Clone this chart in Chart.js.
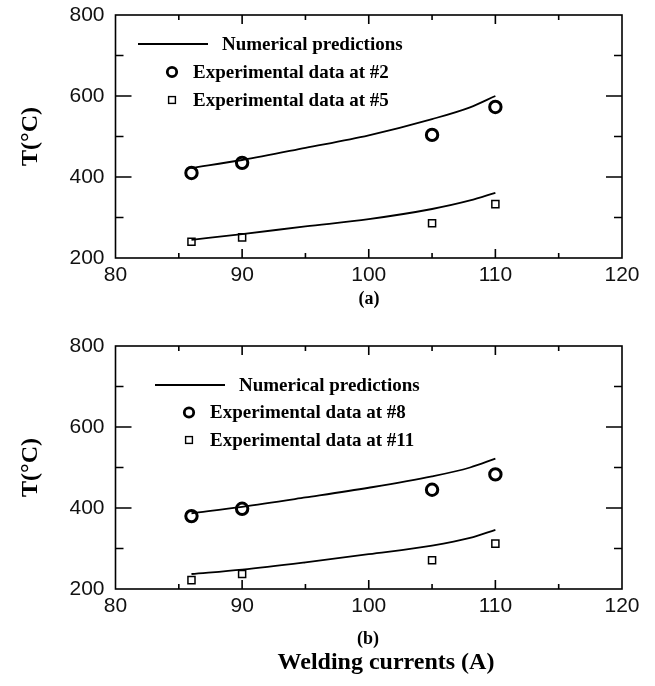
<!DOCTYPE html>
<html>
<head>
<meta charset="utf-8">
<script src="https://cdn.jsdelivr.net/npm/chart.js@4.4.1/dist/chart.umd.min.js"></script>
<style>
  body { margin: 0; background: #fff; }
  #wrap { position: relative; width: 655px; height: 686px; }
  .box { position: absolute; left: 0; width: 655px; height: 300px; }
  .lbl { position: absolute; font-family: "Liberation Serif", serif; font-weight: bold; color: #000;
         line-height: 1; transform: translate(-50%, -50%); white-space: nowrap; }
</style>
</head>
<body>
<div id="wrap">
  <div class="box" style="top:0"><canvas id="chartA" width="655" height="300"></canvas></div>
  <div class="box" style="top:331px"><canvas id="chartB" width="655" height="300"></canvas></div>
  <div class="lbl" style="left:369px; top:298px; font-size:18px">(a)</div>
  <div class="lbl" style="left:368px; top:638px; font-size:18px">(b)</div>
  <div class="lbl" style="left:386px; top:661px; font-size:24px">Welding currents (A)</div>
</div>
<script>
// Measured welding currents (A)
const currents = [86, 90, 105, 110];
// Currents used to trace the numerical prediction curves
const predCurrents = [86, 90, 95, 100, 105, 108, 110];

// (a) positions #2 and #5
const predA2 = [422, 442, 472, 503, 543, 572, 600];
const predA5 = [245, 259, 278, 296, 321, 342, 361];
const expA2 = [410, 435, 504, 573];
const expA5 = [240, 251, 286, 333];

// (b) positions #8 and #11
const predB8 = [387, 403, 426, 450, 478, 500, 522];
const predB11 = [237, 248, 266, 286, 307, 326, 346];
const expB8 = [380, 398, 445, 483];
const expB11 = [222, 237, 271, 312];

// axis ticks
const xTicks = [80, 90, 100, 110, 120];
const yTicks = [200, 400, 600, 800];

function pts(xs, ys) {
  return xs.map((x, i) => ({ x: x, y: ys[i] }));
}

// frame with inward ticks on all four sides
const frameTicks = {
  id: 'frameTicks',
  afterDatasetsDraw(chart) {
    const ctx = chart.ctx;
    const a = chart.chartArea;
    const xs = chart.scales.x, ys = chart.scales.y;
    ctx.save();
    ctx.strokeStyle = '#000';
    ctx.lineWidth = 1.6;
    ctx.strokeRect(a.left, a.top, a.right - a.left, a.bottom - a.top);
    ctx.beginPath();
    for (let v = 85; v < 120; v += 5) {
      const px = xs.getPixelForValue(v);
      const len = v % 10 === 0 ? 9 : 5;
      ctx.moveTo(px, a.bottom); ctx.lineTo(px, a.bottom - len);
      ctx.moveTo(px, a.top); ctx.lineTo(px, a.top + len);
    }
    for (let v = 300; v < 800; v += 100) {
      const py = ys.getPixelForValue(v);
      const len = v % 200 === 0 ? 16 : 8;
      ctx.moveTo(a.left, py); ctx.lineTo(a.left + len, py);
      ctx.moveTo(a.right, py); ctx.lineTo(a.right - len, py);
    }
    ctx.stroke();
    ctx.restore();
  }
};

// hand drawn legend, box position given per chart
const legendBox = {
  id: 'legendBox',
  afterDraw(chart, args, opts) {
    const ctx = chart.ctx;
    const x = opts.x, y = opts.y;
    ctx.save();
    ctx.strokeStyle = '#000';
    ctx.fillStyle = '#000';
    ctx.font = 'bold 19px "Liberation Serif"';
    ctx.textBaseline = 'middle';
    // line
    ctx.lineWidth = 1.8;
    ctx.beginPath();
    ctx.moveTo(x, y); ctx.lineTo(x + 70, y);
    ctx.stroke();
    ctx.fillText('Numerical predictions', x + 84, y + 1);
    // circle
    ctx.lineWidth = 2.8;
    ctx.beginPath();
    ctx.arc(x + 34, y + opts.gap, 4.7, 0, Math.PI * 2);
    ctx.stroke();
    ctx.fillText(opts.labels[0], x + 55, y + opts.gap + 1);
    // square
    ctx.lineWidth = 1.4;
    ctx.strokeRect(x + 34 - 3.4, y + opts.gap * 2 - 3.4, 6.8, 6.8);
    ctx.fillText(opts.labels[1], x + 55, y + opts.gap * 2 + 1);
    ctx.restore();
  }
};

function makeChart(id, upper, lower, circles, squares, legend) {
  const lineStyle = {
    showLine: true, pointRadius: 0, borderColor: '#000', borderWidth: 1.8,
    cubicInterpolationMode: 'monotone', fill: false
  };
  return new Chart(document.getElementById(id), {
    type: 'scatter',
    data: {
      datasets: [
        Object.assign({ label: 'Numerical predictions', data: pts(predCurrents, upper) }, lineStyle),
        Object.assign({ label: 'Numerical predictions lower', data: pts(predCurrents, lower) }, lineStyle),
        {
          label: legend.labels[0], data: pts(currents, circles),
          pointStyle: 'circle', pointRadius: 5.7, borderWidth: 3,
          borderColor: '#000', backgroundColor: 'rgba(0,0,0,0)'
        },
        {
          label: legend.labels[1], data: pts(currents, squares),
          pointStyle: 'rect', pointRadius: 5, borderWidth: 1.5,
          borderColor: '#000', backgroundColor: 'rgba(0,0,0,0)'
        }
      ]
    },
    options: {
      responsive: false,
      animation: false,
      layout: { padding: { top: 15, right: 33, left: 0, bottom: 0 } },
      plugins: {
        legend: { display: false },
        tooltip: { enabled: false },
        legendBox: legend
      },
      scales: {
        x: {
          type: 'linear', min: 80, max: 120,
          afterBuildTicks: s => { s.ticks = xTicks.map(v => ({ value: v })); },
          afterFit: s => { s.height = 42; s.paddingLeft = 0; s.paddingRight = 0; },
          grid: { display: false, drawTicks: false },
          border: { display: false },
          ticks: { padding: 5, color: '#111', font: { family: 'Liberation Sans', size: 21 }, maxRotation: 0 }
        },
        y: {
          type: 'linear', min: 200, max: 800,
          afterBuildTicks: s => { s.ticks = yTicks.map(v => ({ value: v })); },
          afterFit: s => { s.width = 115.5; s.paddingTop = 0; s.paddingBottom = 0; },
          grid: { display: false, drawTicks: false },
          border: { display: false },
          ticks: { padding: 11, color: '#111', font: { family: 'Liberation Sans', size: 21 } },
          title: {
            display: true, text: 'T(°C)', color: '#000',
            font: { family: 'Liberation Serif', size: 24, weight: 'bold' },
            padding: { top: 16, bottom: 0 }
          }
        }
      }
    },
    plugins: [frameTicks, legendBox]
  });
}

makeChart('chartA', predA2, predA5, expA2, expA5,
  { x: 138, y: 44, gap: 28, labels: ['Experimental data at #2', 'Experimental data at #5'] });
makeChart('chartB', predB8, predB11, expB8, expB11,
  { x: 155, y: 54, gap: 27.5, labels: ['Experimental data at #8', 'Experimental data at #11'] });
</script>
</body>
</html>
